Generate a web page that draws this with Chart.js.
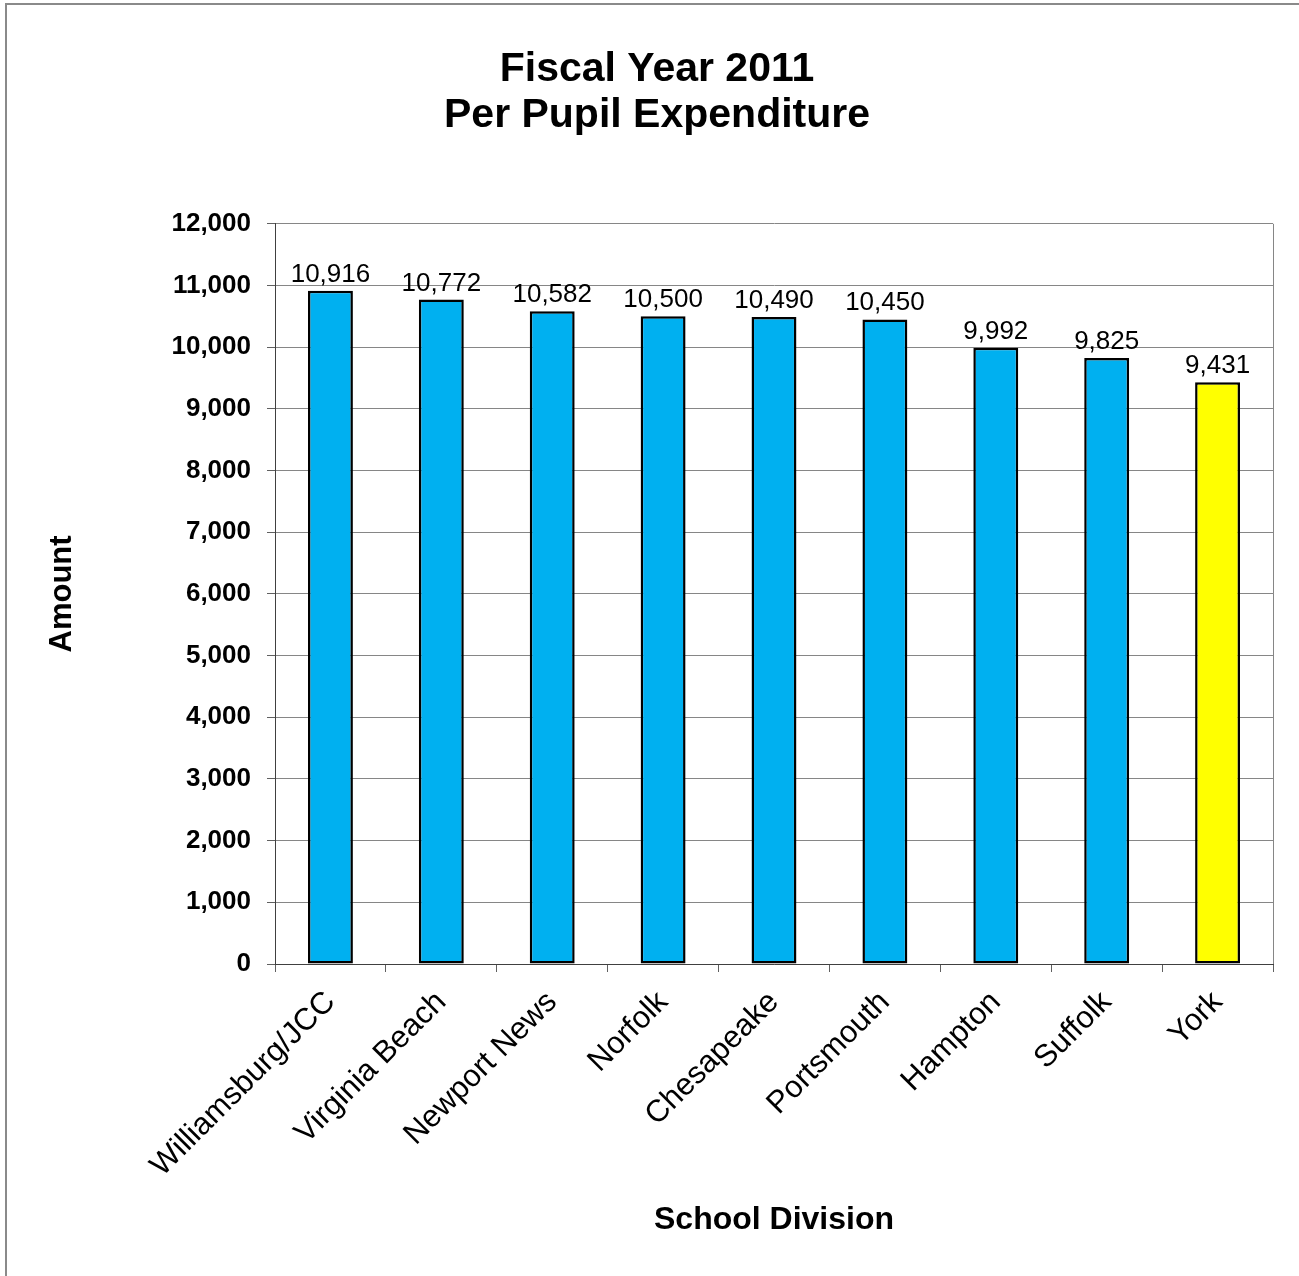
<!DOCTYPE html>
<html>
<head>
<meta charset="utf-8">
<script src="https://cdn.jsdelivr.net/npm/chart.js@4"></script>
<style>
  html, body { margin: 0; padding: 0; background: #fff; }
  #wrap { position: relative; width: 1299px; height: 1276px; overflow: hidden; }
  #frame { position: absolute; left: 5px; top: 3px; width: 1310px; height: 1290px;
           border: 2px solid #8a8a8a; box-sizing: border-box; }
  canvas { position: absolute; left: 0; top: 0; }
</style>
</head>
<body>
<div id="wrap">
  <div id="frame"></div>
  <canvas id="chart" width="1299" height="1276"></canvas>
</div>
<script>
// School divisions and FY2011 per pupil spending
const divisions = ['Williamsburg/JCC', 'Virginia Beach', 'Newport News', 'Norfolk',
                   'Chesapeake', 'Portsmouth', 'Hampton', 'Suffolk', 'York'];
const expenditure = [10916, 10772, 10582, 10500, 10490, 10450, 9992, 9825, 9431];
const highlighted = 'York';

const titleLines = ['Fiscal Year 2011', 'Per Pupil Expenditure'];
const yAxisTitle = 'Amount';
const xAxisTitle = 'School Division';

const FONT = '"Liberation Sans", Arial, Helvetica, sans-serif';
const barColors = divisions.map(d => d === highlighted ? '#FFFF00' : '#00B0F0');

// Value labels above each bar
const valueLabels = {
  id: 'valueLabels',
  afterDatasetsDraw(chart) {
    const ctx = chart.ctx;
    const meta = chart.getDatasetMeta(0);
    ctx.save();
    ctx.font = '26px ' + FONT;
    ctx.fillStyle = '#000';
    ctx.textAlign = 'center';
    ctx.textBaseline = 'alphabetic';
    meta.data.forEach((bar, i) => {
      const v = chart.data.datasets[0].data[i];
      ctx.fillText(v.toLocaleString('en-US'), bar.x, bar.y - 9);
    });
    ctx.restore();
  }
};

new Chart(document.getElementById('chart'), {
  type: 'bar',
  data: {
    labels: divisions,
    datasets: [{
      data: expenditure,
      backgroundColor: barColors,
      borderColor: '#000',
      borderWidth: 2.5,
      borderSkipped: false,
      barPercentage: 0.405,
      categoryPercentage: 1
    }]
  },
  options: {
    responsive: false,
    animation: false,
    layout: { padding: { left: 41, right: 26, top: 0, bottom: 0 } },
    plugins: {
      legend: { display: false },
      tooltip: { enabled: false },
      title: {
        display: true,
        text: titleLines,
        color: '#000',
        font: { family: FONT, size: 41, weight: 'bold', lineHeight: 1.12 },
        padding: { top: 47, bottom: 85 }
      }
    },
    scales: {
      y: {
        min: 0,
        max: 12000,
        ticks: {
          stepSize: 1000,
          color: '#000',
          padding: 16,
          font: { family: FONT, size: 26, weight: 'bold' }
        },
        grid: { color: '#868686', lineWidth: 1, tickLength: 8, tickColor: '#606060' },
        border: { color: '#404040', width: 1 },
        title: {
          display: true,
          text: yAxisTitle,
          color: '#000',
          font: { family: FONT, size: 31, weight: 'bold', lineHeight: 1.2 },
          padding: { top: 3, bottom: 0 }
        },
        afterFit(scale) { scale.width = 234; }
      },
      x: {
        offset: true,
        ticks: {
          color: '#000',
          minRotation: 45,
          maxRotation: 45,
          padding: 12,
          font: { family: FONT, size: 31 }
        },
        grid: {
          offset: true,
          drawOnChartArea: true,
          color: c => (c.type === 'scale' ? '#868686' : 'rgba(0,0,0,0)'),
          tickColor: '#606060',
          tickLength: 8,
          lineWidth: 1
        },
        border: { color: '#404040', width: 1 },
        title: {
          display: true,
          text: xAxisTitle,
          color: '#000',
          font: { family: FONT, size: 32, weight: 'bold', lineHeight: 1.2 },
          padding: { top: 0, bottom: 37 }
        },
        afterFit(scale) { scale.height = 312; }
      }
    }
  },
  plugins: [valueLabels]
});
</script>
</body>
</html>
